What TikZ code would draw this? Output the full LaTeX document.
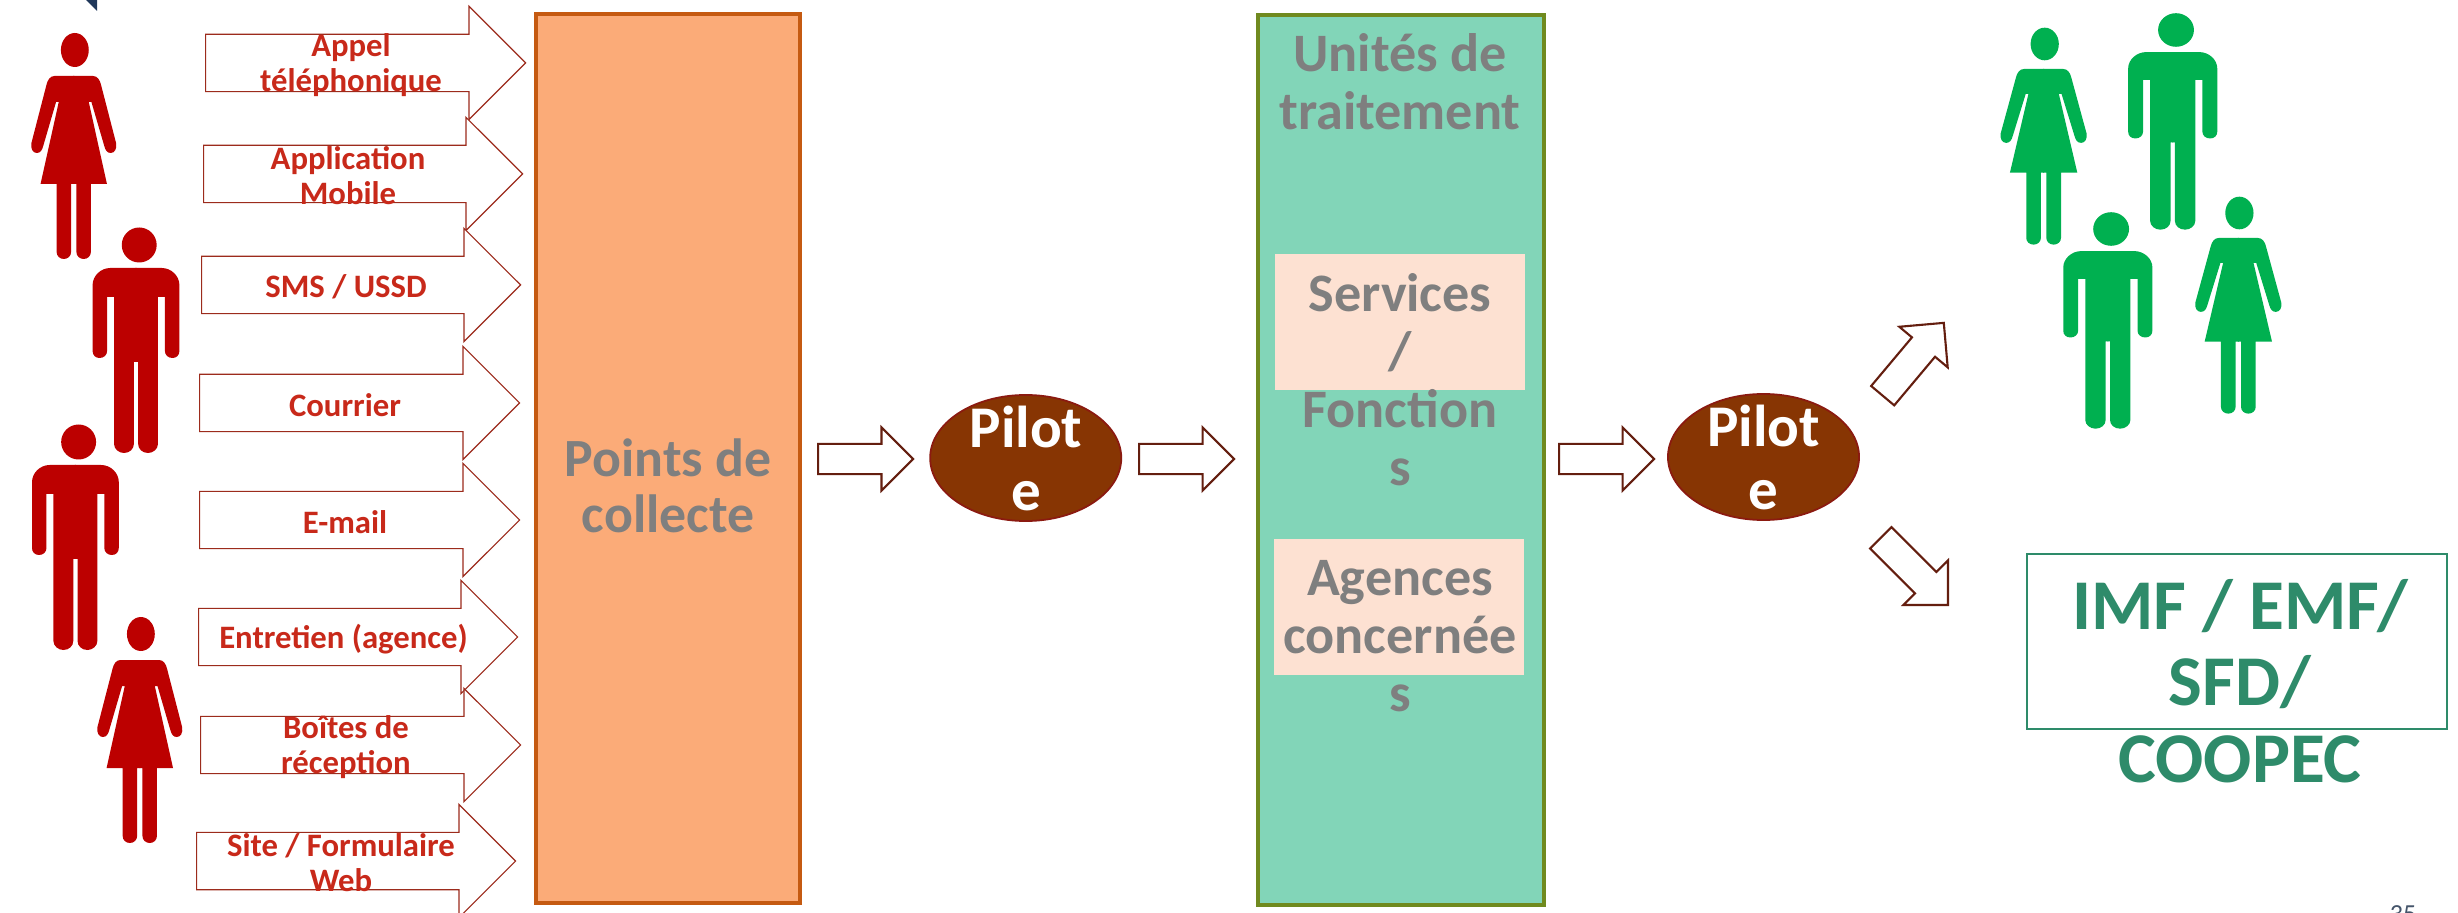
\documentclass[tikz,border=0pt]{standalone}
\usepackage{fontspec}
\setmainfont{Carlito}
\usetikzlibrary{shapes.arrows,shapes.geometric}

\definecolor{redperson}{HTML}{BC0000}
\definecolor{greenperson}{HTML}{00B050}
\definecolor{labelred}{HTML}{C8291A}
\definecolor{arrowred}{HTML}{9C2B1C}
\definecolor{arrowdark}{HTML}{641E0F}
\definecolor{greytext}{HTML}{7F7F7F}
\definecolor{tealtext}{HTML}{2E8B6A}
\definecolor{piloteline}{HTML}{8B1A10}

\tikzset{
  blockarrow/.style={single arrow,draw=arrowdark,line width=.6pt,fill=white,inner sep=0,inner ysep=.14cm,anchor=tail,
    minimum height=.95cm,minimum width=.6cm,single arrow head extend=.165cm,single arrow tip angle=90},
  inarrow/.style={single arrow,draw=arrowred,line width=.35pt,fill=white,inner sep=0,inner ysep=.28cm,anchor=tail,
    minimum width=1.12cm,single arrow head extend=.28cm,single arrow tip angle=90},
  inlabel/.style={text=labelred,font=\fontsize{9.3}{9.96}\selectfont\bfseries,align=center,inner sep=0},
  greylabel/.style={text=greytext,font=\fontsize{15.4}{16.5}\selectfont\bfseries,align=center,inner sep=0},
  pilote/.style={ellipse,draw=piloteline,line width=.5pt,fill={rgb,255:red,135;green,53;blue,3},
    minimum width=1.91cm,minimum height=1.26cm,inner sep=0},
  pilotelabel/.style={text=white,font=\fontsize{16.8}{17.9}\selectfont\bfseries,align=center,inner sep=0},
  peachbox/.style={fill={rgb,255:red,253;green,225;blue,210},minimum width=2.5cm,minimum height=1.36cm,inner sep=0},
  redone/.style={color=redperson,xscale=1.0714},
  greenwoman/.style={color=greenperson,xscale=1.086,yscale=.96},
  greenman/.style={color=greenperson,xscale=1.1,yscale=.96},
  pics/woman/.style={code={
    \fill (1,0) ellipse [x radius=13,y radius=17];
    \foreach \s in {-1,1}
      \fill[xscale=\s] (-.5,26) -- (18,26) .. controls (22,26) and (24.5,30) .. (25.5,35)
        -- (39.5,93) .. controls (40.5,99) and (38,103) .. (34.5,103) .. controls (31,103) and (29.5,100) .. (28.5,96)
        -- (16.5,52) -- (14,52) -- (31,134) -- (16,134) -- (16,202)
        .. controls (16,206) and (13,209) .. (9.25,209) .. controls (5.5,209) and (2.5,206) .. (2.5,202)
        -- (2.5,134) -- (-.5,134) -- cycle;
  }},
  pics/man/.style={code={
    \fill (3,0) ellipse [x radius=16.3,y radius=17.5];
    \foreach \s in {-1,1}
      \fill[xscale=\s] (-.5,23) -- (24,23) .. controls (33,23) and (40.5,31) .. (40.5,40)
        -- (40.5,106) .. controls (40.5,110) and (38,113) .. (34,113) .. controls (30,113) and (27,110) .. (27,106)
        -- (27,52) -- (20.5,52) -- (20.5,199)
        .. controls (20.5,204) and (16,208) .. (11.25,208) .. controls (6,208) and (2,204) .. (2,199)
        -- (2,117) -- (-.5,117) -- cycle;
  }}
}

\begin{document}
\begin{tikzpicture}[x=.01cm,y=-.01cm]

\clip (0,0) rectangle (2458,913);
\fill[white] (0,0) rectangle (2458,913);
\fill[fill={rgb,255:red,32;green,56;blue,90}] (86,0) -- (97,0) -- (97,11) -- cycle;

\pic[redone] at (73.75,50) {woman};
\pic[redone] at (136,245) {man};
\pic[redone] at (75.4,442) {man};
\pic[redone] at (139.8,634) {woman};

\foreach \i/\tailx/\tipx/\cy/\lblx/\lbl in {
  1/205/525/63/351/{Appel\\téléphonique},
  2/203/522/174/348/{Application\\Mobile},
  3/201/520/285/346/{SMS / USSD},
  4/199/519/403/345/{Courrier},
  5/199/519/520/345/{E-mail},
  6/198/517/637/343.5/{Entretien (agence)},
  7/200/520/745/346/{Boîtes de\\réception},
  8/196/515/861/341/{Site / Formulaire\\Web}}{
  \node[inarrow,minimum height={(\tipx-\tailx)*.01cm}] (in\i) at (\tailx,\cy) {};
  \node[inlabel] (inlabel\i) at (\lblx,\cy+2) {\lbl};
}

\node[draw={rgb,255:red,197;green,90;blue,17},line width=1.15pt,fill={rgb,255:red,251;green,171;blue,120},
  minimum width=2.63cm,minimum height=8.89cm,inner sep=0] (collect) at (668,458.5) {};
\node[text=greytext,font=\fontsize{15.3}{15.9}\selectfont\bfseries,align=center,inner sep=0] (collectlabel) at (668,486) {Points de\\collecte};

\node[blockarrow] (arrow1) at (817,459) {};
\node[pilote] (pilote1) at (1025.7,458) {};
\node[pilotelabel] (pilotelabel1) at (1026,458.5) {Pilot\\e};
\node[blockarrow] (arrow2) at (1138,459) {};

\node[draw={rgb,255:red,112;green,138;blue,31},line width=1.15pt,fill={rgb,255:red,130;green,213;blue,184},
  minimum width=2.86cm,minimum height=8.9cm,inner sep=0] (units) at (1401,460) {};
\node[greylabel] (unitslabel) at (1400,81.5) {Unités de\\traitement};
\node[peachbox] (services) at (1400,322) {};
\node[peachbox] (agences) at (1399,607) {};
\node[greylabel] (serviceslabel) at (1400,379.5) {Services\\/\\Fonction\\s};
\node[greylabel] (agenceslabel) at (1400,636.5) {Agences\\concernée\\s};

\node[blockarrow] (arrow3) at (1558,459) {};
\node[pilote] (pilote2) at (1763.5,457) {};
\node[pilotelabel] (pilotelabel2) at (1763.5,457.5) {Pilot\\e};

\node[blockarrow,rotate=50] (arrowup) at (1882,396.5) {};
\node[blockarrow,rotate=-45] (arrowdown) at (1880,537) {};

\pic[greenwoman] at (2043.6,44) {woman};
\pic[greenman] at (2172.7,30) {man};
\pic[greenman] at (2107.8,229) {man};
\pic[greenwoman] at (2238.3,213) {woman};

\node[draw=tealtext,line width=.45pt,minimum width=4.2cm,minimum height=1.75cm,inner sep=0] (imfbox) at (2237,641.5) {};
\node[text=tealtext,font=\fontsize{20.3}{21.8}\selectfont\bfseries,align=center,inner sep=0] (imflabel) at (2240,681) {IMF / EMF/\\SFD/\\COOPEC};

\node[text={rgb,255:red,68;green,84;blue,106},font=\fontsize{7.4}{8}\selectfont,anchor=base,inner sep=0] (pagenum) at (2403,922) {35};

\end{tikzpicture}
\end{document}
